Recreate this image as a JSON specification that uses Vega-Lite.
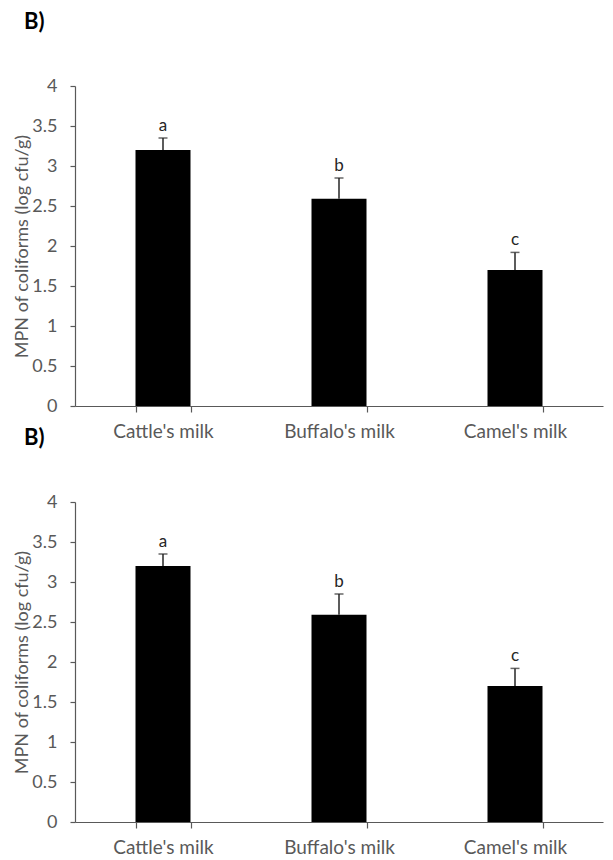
{
  "$schema": "https://vega.github.io/schema/vega-lite/v6.json",
  "padding": {"left": 13, "top": 11, "right": 1, "bottom": 2},
  "background": "white",
  "config": {
    "view": {"stroke": null},
    "font": "Lato",
    "axis": {"grid": false},
    "axisY": {"labelFontSize": 18, "labelColor": "#595959", "titleColor": "#595959", "titleFontSize": 18, "titleFontWeight": "normal", "domainColor": "#595959", "tickColor": "#595959", "tickSize": 5, "labelPadding": 13, "titlePadding": 0, "domainWidth": 1.2, "tickWidth": 1.2, "labelOverlap": false},
    "axisX": {"labelAngle": 0, "labelFontSize": 19, "labelColor": "#595959", "domainColor": "#595959", "tickColor": "#595959", "tickSize": 6, "labelPadding": 10, "domainWidth": 1.2, "tickWidth": 1.2}
  },
  "datasets": {
    "milk": [
      {"milk": "Cattle's milk", "mean": 3.2, "upper": 3.35, "letter": "a"},
      {"milk": "Buffalo's milk", "mean": 2.59, "upper": 2.85, "letter": "b"},
      {"milk": "Camel's milk", "mean": 1.7, "upper": 1.92, "letter": "c"}
    ]
  },
  "bounds": "flush",
  "spacing": 96,
  "vconcat": [
    {
      "width": 528,
      "height": 320,
      "title": {"text": "B)", "anchor": "start", "frame": "group", "dx": -51, "offset": 43, "fontSize": 22, "fontWeight": "bold", "color": "black", "font": "Lato"},
      "data": {"name": "milk"},
      "encoding": {
        "x": {
          "field": "milk", "type": "nominal", "sort": null,
          "scale": {"paddingInner": 0.6875, "paddingOuter": 0.34375},
          "axis": {"title": null, "tickBand": "extent"}
        }
      },
      "layer": [
        {
          "mark": {"type": "bar", "color": "black"},
          "encoding": {
            "y": {"field": "mean", "type": "quantitative", "scale": {"domain": [0, 4]},
              "axis": {"title": "MPN of coliforms (log cfu/g)", "values": [0, 0.5, 1, 1.5, 2, 2.5, 3, 3.5, 4], "format": "~g"}}
          }
        },
        {
          "mark": {"type": "rule", "color": "#262626", "strokeWidth": 1.5},
          "encoding": {
            "y": {"field": "mean", "type": "quantitative", "axis": {"title": "MPN of coliforms (log cfu/g)", "values": [0, 0.5, 1, 1.5, 2, 2.5, 3, 3.5, 4], "format": "~g"}},
            "y2": {"field": "upper"}
          }
        },
        {
          "mark": {"type": "tick", "color": "#262626", "thickness": 1.5, "size": 9},
          "encoding": {
            "y": {"field": "upper", "type": "quantitative", "axis": {"title": "MPN of coliforms (log cfu/g)", "values": [0, 0.5, 1, 1.5, 2, 2.5, 3, 3.5, 4], "format": "~g"}}
          }
        },
        {
          "mark": {"type": "text", "baseline": "bottom", "dy": -3, "fontSize": 17, "color": "#262626"},
          "encoding": {
            "y": {"field": "upper", "type": "quantitative", "axis": {"title": "MPN of coliforms (log cfu/g)", "values": [0, 0.5, 1, 1.5, 2, 2.5, 3, 3.5, 4], "format": "~g"}},
            "text": {"field": "letter"}
          }
        }
      ]
    },
    {
      "width": 528,
      "height": 320,
      "title": {"text": "B)", "anchor": "start", "frame": "group", "dx": -51, "offset": 43, "fontSize": 22, "fontWeight": "bold", "color": "black", "font": "Lato"},
      "data": {"name": "milk"},
      "encoding": {
        "x": {
          "field": "milk", "type": "nominal", "sort": null,
          "scale": {"paddingInner": 0.6875, "paddingOuter": 0.34375},
          "axis": {"title": null, "tickBand": "extent"}
        }
      },
      "layer": [
        {
          "mark": {"type": "bar", "color": "black"},
          "encoding": {
            "y": {"field": "mean", "type": "quantitative", "scale": {"domain": [0, 4]},
              "axis": {"title": "MPN of coliforms (log cfu/g)", "values": [0, 0.5, 1, 1.5, 2, 2.5, 3, 3.5, 4], "format": "~g"}}
          }
        },
        {
          "mark": {"type": "rule", "color": "#262626", "strokeWidth": 1.5},
          "encoding": {
            "y": {"field": "mean", "type": "quantitative", "axis": {"title": "MPN of coliforms (log cfu/g)", "values": [0, 0.5, 1, 1.5, 2, 2.5, 3, 3.5, 4], "format": "~g"}},
            "y2": {"field": "upper"}
          }
        },
        {
          "mark": {"type": "tick", "color": "#262626", "thickness": 1.5, "size": 9},
          "encoding": {
            "y": {"field": "upper", "type": "quantitative", "axis": {"title": "MPN of coliforms (log cfu/g)", "values": [0, 0.5, 1, 1.5, 2, 2.5, 3, 3.5, 4], "format": "~g"}}
          }
        },
        {
          "mark": {"type": "text", "baseline": "bottom", "dy": -3, "fontSize": 17, "color": "#262626"},
          "encoding": {
            "y": {"field": "upper", "type": "quantitative", "axis": {"title": "MPN of coliforms (log cfu/g)", "values": [0, 0.5, 1, 1.5, 2, 2.5, 3, 3.5, 4], "format": "~g"}},
            "text": {"field": "letter"}
          }
        }
      ]
    }
  ]
}
